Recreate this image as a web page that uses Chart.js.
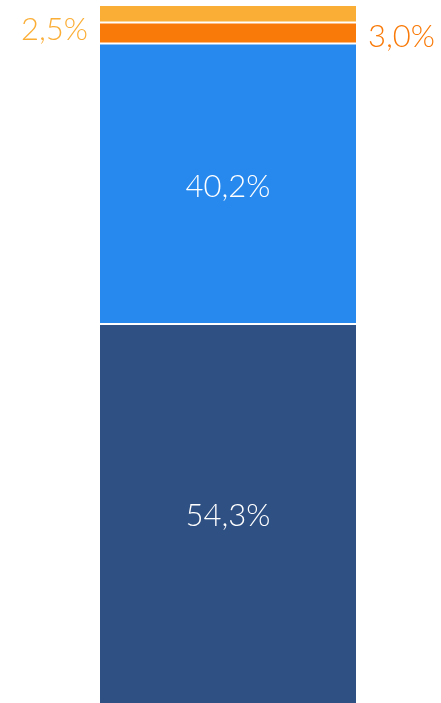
<!DOCTYPE html>
<html>
<head>
<meta charset="utf-8">
<script src="https://cdn.jsdelivr.net/npm/chart.js@4"></script>
<style>
  html, body { margin: 0; padding: 0; background: #fff; }
  #wrap { width: 441px; height: 703px; }
</style>
</head>
<body>
<div id="wrap"><canvas id="chart"></canvas></div>
<script>
// data, bottom segment first
const categories = ["Total"];
const seriesNames = ["A", "B", "C", "D"];
const seriesValues = [54.3, 40.2, 3.0, 2.5];
const seriesColors = ["#2f5082", "#2789ee", "#f97a08", "#fbae36"];
// where the value label goes: inside, or outside to the left/right
const labelPlace = ["inside", "inside", "right", "left"];

const fmt = v => v.toFixed(1).replace(".", ",") + "%";

const valueLabels = {
    id: 'valueLabels',
    afterDatasetsDraw(chart) {
        const ctx = chart.ctx;
        ctx.save();
        ctx.font = '300 31px Lato, "DejaVu Sans", sans-serif';
        ctx.textBaseline = 'middle';
        chart.data.datasets.forEach((ds, i) => {
            const bar = chart.getDatasetMeta(i).data[0];
            const mid = (bar.y + bar.base) / 2 + 3;
            const half = bar.width / 2;
            const place = labelPlace[i];
            if (place === 'inside') {
                ctx.fillStyle = '#ffffff';
                ctx.textAlign = 'center';
                ctx.fillText(fmt(ds.data[0]), bar.x, mid);
            } else if (place === 'left') {
                ctx.fillStyle = ds.backgroundColor;
                ctx.textAlign = 'right';
                ctx.fillText(fmt(ds.data[0]), bar.x - half - 12, mid + 13);
            } else {
                ctx.fillStyle = ds.backgroundColor;
                ctx.textAlign = 'left';
                ctx.fillText(fmt(ds.data[0]), bar.x + half + 12, mid + 1);
            }
        });
        ctx.restore();
    }
};

new Chart(document.getElementById("chart"), {
    type: 'bar',
    data: {
        labels: categories,
        datasets: seriesNames.map((name, i) => ({
            label: name,
            data: [seriesValues[i]],
            backgroundColor: seriesColors[i],
            borderColor: '#ffffff',
            borderWidth: { top: 1, bottom: i === 0 ? 0 : 1, left: 0, right: 0 },
            borderSkipped: false,
            categoryPercentage: 1,
            barPercentage: 0.601
        }))
    },
    options: {
        responsive: true,
        maintainAspectRatio: false,
        animation: false,
        layout: { padding: { left: 15, right: 0, top: 5, bottom: 0 } },
        plugins: {
            legend: { display: false },
            tooltip: { enabled: false }
        },
        scales: {
            x: { stacked: true, display: false },
            y: { stacked: true, display: false, min: 0, max: 100 }
        }
    },
    plugins: [valueLabels]
});
</script>
</body>
</html>
